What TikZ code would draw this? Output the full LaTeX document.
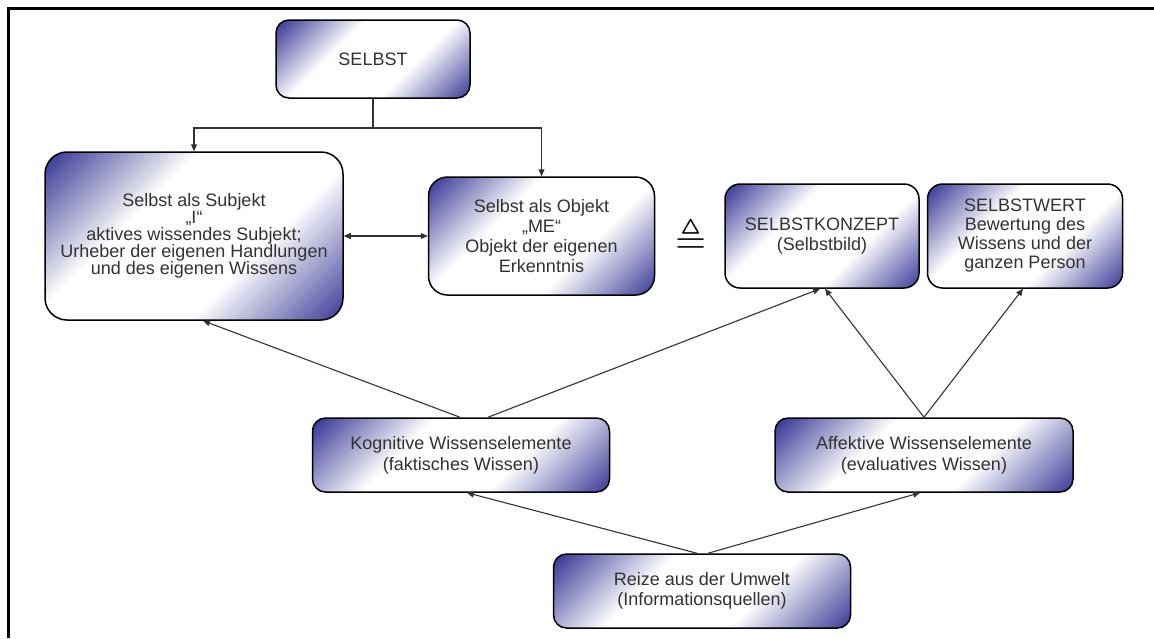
\documentclass[tikz,border=0pt]{standalone}
\usepackage{fontspec}
\setmainfont{Liberation Sans}
\usepackage{amssymb}
\usetikzlibrary{positioning,arrows.meta}
\definecolor{feldblau}{RGB}{52,52,148}
\definecolor{schrift}{RGB}{50,50,50}
\pgfdeclarehorizontalshading{feldshade}{100bp}{color(0bp)=(feldblau); color(15bp)=(feldblau); color(38bp)=(white); color(62bp)=(white); color(86bp)=(feldblau); color(100bp)=(feldblau)}

\begin{document}
\begin{tikzpicture}[x=1pt,y=-1pt,
			feld/.style={draw, line width=1.5pt, rounded corners=13pt, shade, shading=feldshade, shading angle=-45, align=center, text=schrift, font=\fontsize{18}{20}\selectfont, inner sep=2pt},
			pfeil/.style={-{Triangle[length=7pt,width=6pt]}, line width=1.1pt, black!80},
			pfeilzwei/.style={{Triangle[length=7pt,width=6pt]}-{Triangle[length=7pt,width=6pt]}, line width=1.1pt, black!80},
			linie/.style={line width=1.1pt, black!80}
		]
		\useasboundingbox (0,0) rectangle (1154,638);
		\draw[line width=3pt] (8,638) -- (8,8) -- (1154,8);

		% Selbst
		\node[feld, minimum width=194pt, minimum height=78pt] (selbst) at (373,59) {SELBST};
		\node[feld, minimum width=298pt, minimum height=168pt, rounded corners=22pt, font=\fontsize{18}{17}\selectfont] (ich) at (194,236) {Selbst als Subjekt\\„I“\\aktives wissendes Subjekt;\\Urheber der eigenen Handlungen\\und des eigenen Wissens};
		\node[feld, minimum width=226pt, minimum height=118pt, rounded corners=19pt, right=84pt of ich] (mich) {Selbst als Objekt\\„ME“\\Objekt der eigenen\\Erkenntnis};

		% Konzept und Wert
		\node[font=\fontsize{40}{40}\selectfont] (gleich) at (691,237) {$\triangleq$};
		\node[feld, minimum width=194pt, minimum height=104pt, rounded corners=15pt, right=69pt of mich] (konzept) {SELBSTKONZEPT\\(Selbstbild)};
		\node[feld, minimum width=195pt, minimum height=104pt, rounded corners=15pt, right=7pt of konzept, font=\fontsize{18}{19}\selectfont] (wert) {SELBSTWERT\\Bewertung des\\Wissens und der\\ganzen Person};

		% Wissenselemente
		\node[feld, minimum width=297pt, minimum height=74pt, font=\fontsize{18}{21}\selectfont] (kog) at (461,455) {Kognitive Wissenselemente\\(faktisches Wissen)};
		\node[feld, minimum width=298pt, minimum height=74pt, font=\fontsize{18}{21}\selectfont] (aff) at (924,455) {Affektive Wissenselemente\\(evaluatives Wissen)};
		\node[feld, minimum width=297pt, minimum height=74pt] (reize) at (702,591) {Reize aus der Umwelt\\(Informationsquellen)};

		% Pfeile
		\coordinate (gabel) at (373,128);
		\draw[linie] (selbst) -- (gabel);
		\draw[pfeil] (gabel) -| (ich.north);
		\draw[pfeil] (gabel) -| (mich.north);
		\draw[pfeilzwei] (ich) -- (mich);
		\draw[pfeil] ([xshift=-1pt]kog.north) -- ([xshift=9pt]ich.south);
		\draw[pfeil] ([xshift=27pt]kog.north) -- ([xshift=-2pt]konzept.south);
		\draw[pfeil] (aff.north) -- ([xshift=3pt]konzept.south);
		\draw[pfeil] (aff.north) -- ([xshift=-2pt]wert.south);
		\draw[pfeil] ([xshift=-5pt]reize.north) -- ([xshift=6pt]kog.south);
		\draw[pfeil] ([xshift=6pt]reize.north) -- ([xshift=-4pt]aff.south);
	\end{tikzpicture}
\end{document}
